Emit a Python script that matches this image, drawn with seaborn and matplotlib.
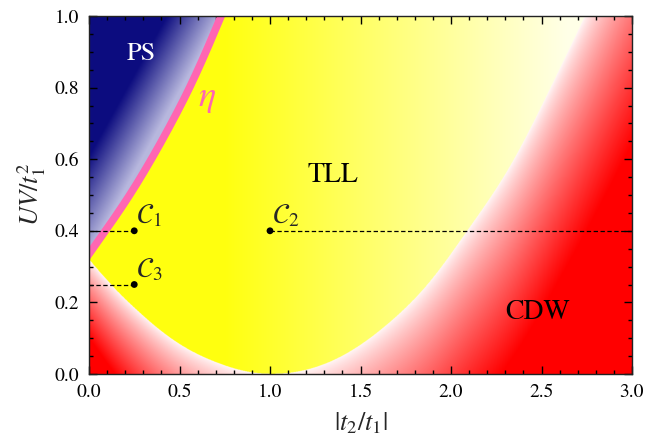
import numpy as np
import matplotlib
matplotlib.use("Agg")
import matplotlib.pyplot as plt
import seaborn as sns
from matplotlib.ticker import MultipleLocator

# ---- data ----
# PS / TLL boundary (the eta line)
ps_x = [0.00, 0.06, 0.195, 0.333, 0.465, 0.546, 0.73]
ps_y = [0.335, 0.378, 0.477, 0.59, 0.71, 0.79, 1.00]
# CDW / TLL boundary (last point just outside the frame)
cdw_x = [0.00, 0.13, 0.25, 0.48, 0.71, 0.89, 1.03, 1.11, 1.39, 1.67, 1.89, 2.09, 2.32, 2.56, 2.74, 3.00]
cdw_y = [0.320, 0.245, 0.185, 0.090, 0.031, 0.005, 0.000, 0.003, 0.048, 0.148, 0.262, 0.400, 0.575, 0.810, 1.000, 1.290]
# special points
pt_names = [r"$\mathcal{C}_1$", r"$\mathcal{C}_2$", r"$\mathcal{C}_3$"]
pt_x = [0.25, 1.00, 0.25]
pt_y = [0.40, 0.40, 0.25]
# dashed guide lines
dash_y = [0.40, 0.40, 0.25]
dash_x0 = [0.00, 1.00, 0.00]
dash_x1 = [0.25, 3.00, 0.25]
# phase labels
phase_names = ["PS", "TLL", "CDW"]
phase_x = [0.286, 1.35, 2.48]
phase_y = [0.893, 0.556, 0.173]

x_ticks = [0.0, 0.5, 1.0, 1.5, 2.0, 2.5, 3.0]
y_ticks = [0.0, 0.2, 0.4, 0.6, 0.8, 1.0]


def spline(xk, yk, xq):
    """Natural cubic spline through the read boundary points."""
    xk = np.asarray(xk, float)
    yk = np.asarray(yk, float)
    n = len(xk)
    hk = np.diff(xk)
    A = np.zeros((n, n))
    r = np.zeros(n)
    A[0, 0] = A[-1, -1] = 1.0
    for i in range(1, n - 1):
        A[i, i - 1] = hk[i - 1]
        A[i, i] = 2 * (hk[i - 1] + hk[i])
        A[i, i + 1] = hk[i]
        r[i] = 6 * ((yk[i + 1] - yk[i]) / hk[i] - (yk[i] - yk[i - 1]) / hk[i - 1])
    M = np.linalg.solve(A, r)
    xq = np.asarray(xq, float)
    i = np.clip(np.searchsorted(xk, xq) - 1, 0, n - 2)
    hi = hk[i]
    a = xk[i + 1] - xq
    b = xq - xk[i]
    return (M[i] * a**3 / (6 * hi) + M[i + 1] * b**3 / (6 * hi)
            + (yk[i] / hi - M[i] * hi / 6) * a
            + (yk[i + 1] / hi - M[i + 1] * hi / 6) * b)


# ---- style ----
sns.set_style("ticks")
plt.rcParams["font.family"] = ["STIXGeneral", "DejaVu Sans"]
plt.rcParams["mathtext.fontset"] = "stix"

fig = plt.figure(figsize=(6.49, 4.37), dpi=100)
ax = fig.add_axes([89 / 649, 1 - 374 / 437, 543 / 649, 358 / 437])

# ---- background phase map ----
nx, ny = 1500, 900
gx = np.linspace(0, 3, nx)
gy = np.linspace(0, 1, ny)
X, Y = np.meshgrid(gx, gy)
fb = spline(cdw_x, cdw_y, X)
xb = np.where(Y >= ps_y[0], spline(ps_y, ps_x, Y), -1.0)
ps_mask = X < xb
cdw_mask = (Y < fb) & ~ps_mask

# TLL: yellow fading to white toward the right
yellow = np.array([1.0, 1.0, 0.06])
white = np.array([1.0, 1.0, 1.0])
w = np.clip((X - 0.75) / 2.1, 0, 0.9)[..., None]
img = yellow * (1 - w) + white * w
# PS: navy fading to lavender toward the boundary (linear gradient
# whose isolines run parallel to the chord of the boundary)
navy = np.array([0.05, 0.05, 0.50])
light = np.array([0.72, 0.72, 0.87])
chord = ps_x[0] + (ps_x[-1] - ps_x[0]) * (Y - ps_y[0]) / (ps_y[-1] - ps_y[0])
t = np.clip((chord - X) / 0.30, 0, 1)[..., None]
ps_col = light * (1 - t) + navy * t
img[ps_mask] = ps_col[ps_mask]
# CDW: white at the boundary, red deeper in
red = np.array([1.0, 0.0, 0.0])
pale = np.array([1.0, 0.97, 0.97])
h = np.interp(X, [0.0, 1.03, 3.0], [0.22, 0.35, 0.65])
tc = (np.clip((fb - Y) / h, 0, 1) ** 0.8)[..., None]
cdw_col = pale * (1 - tc) + red * tc
img[cdw_mask] = cdw_col[cdw_mask]

ax.imshow(img, extent=[0, 3, 0, 1], origin="lower", aspect="auto",
          interpolation="antialiased", zorder=0)

# eta line (smooth curve through the read points)
ly = np.linspace(ps_y[0] - 0.02, ps_y[-1] + 0.02, 200)
lx = spline(ps_y, ps_x, ly)
sns.lineplot(x=lx, y=ly, color="#ff66b2", lw=5.5, sort=False,
             estimator=None, ax=ax, zorder=3, solid_capstyle="butt")

# dashed guides
ax.hlines(dash_y, dash_x0, dash_x1, colors="black", linestyles=(0, (3.5, 2)),
          lw=0.9, zorder=4)
# points
sns.scatterplot(x=pt_x, y=pt_y, color="black", s=24, edgecolor="none",
                ax=ax, zorder=5, legend=False)
for name, x, y in zip(pt_names, pt_x, pt_y):
    ax.text(x + 0.01, y + 0.004, name, fontsize=20, ha="left", va="bottom",
            zorder=6)

# phase labels
cols = ["white", "black", "black"]
sizes = [19, 20, 20]
for name, x, y, c, s in zip(phase_names, phase_x, phase_y, cols, sizes):
    ax.text(x, y, name, color=c, fontsize=s, ha="center", va="center", zorder=6)
ax.text(0.65, 0.77, r"$\eta$", color="#ff66b2", fontsize=26, ha="center",
        va="center", zorder=6)

# ---- axes ----
ax.set_xlim(0, 3)
ax.set_ylim(0, 1)
ax.set_xticks(x_ticks)
ax.set_yticks(y_ticks)
ax.set_xticklabels([f"{v:.1f}" for v in x_ticks])
ax.set_yticklabels([f"{v:.1f}" for v in y_ticks])
ax.xaxis.set_minor_locator(MultipleLocator(0.1))
ax.yaxis.set_minor_locator(MultipleLocator(0.05))
ax.tick_params(which="both", direction="in", top=True, right=True,
               colors="black", width=1.0)
ax.tick_params(which="major", length=6, labelsize=14, pad=7)
ax.tick_params(which="minor", length=3)
for sp in ax.spines.values():
    sp.set_linewidth(1.0)
    sp.set_color("#222222")
    sp.set_zorder(10)
ax.set_xlabel(r"$|t_2/t_1|$", fontsize=19, labelpad=7)
ax.set_ylabel(r"$UV/t_1^2$", fontsize=19, labelpad=5)

fig.savefig("out.png", dpi=100)
